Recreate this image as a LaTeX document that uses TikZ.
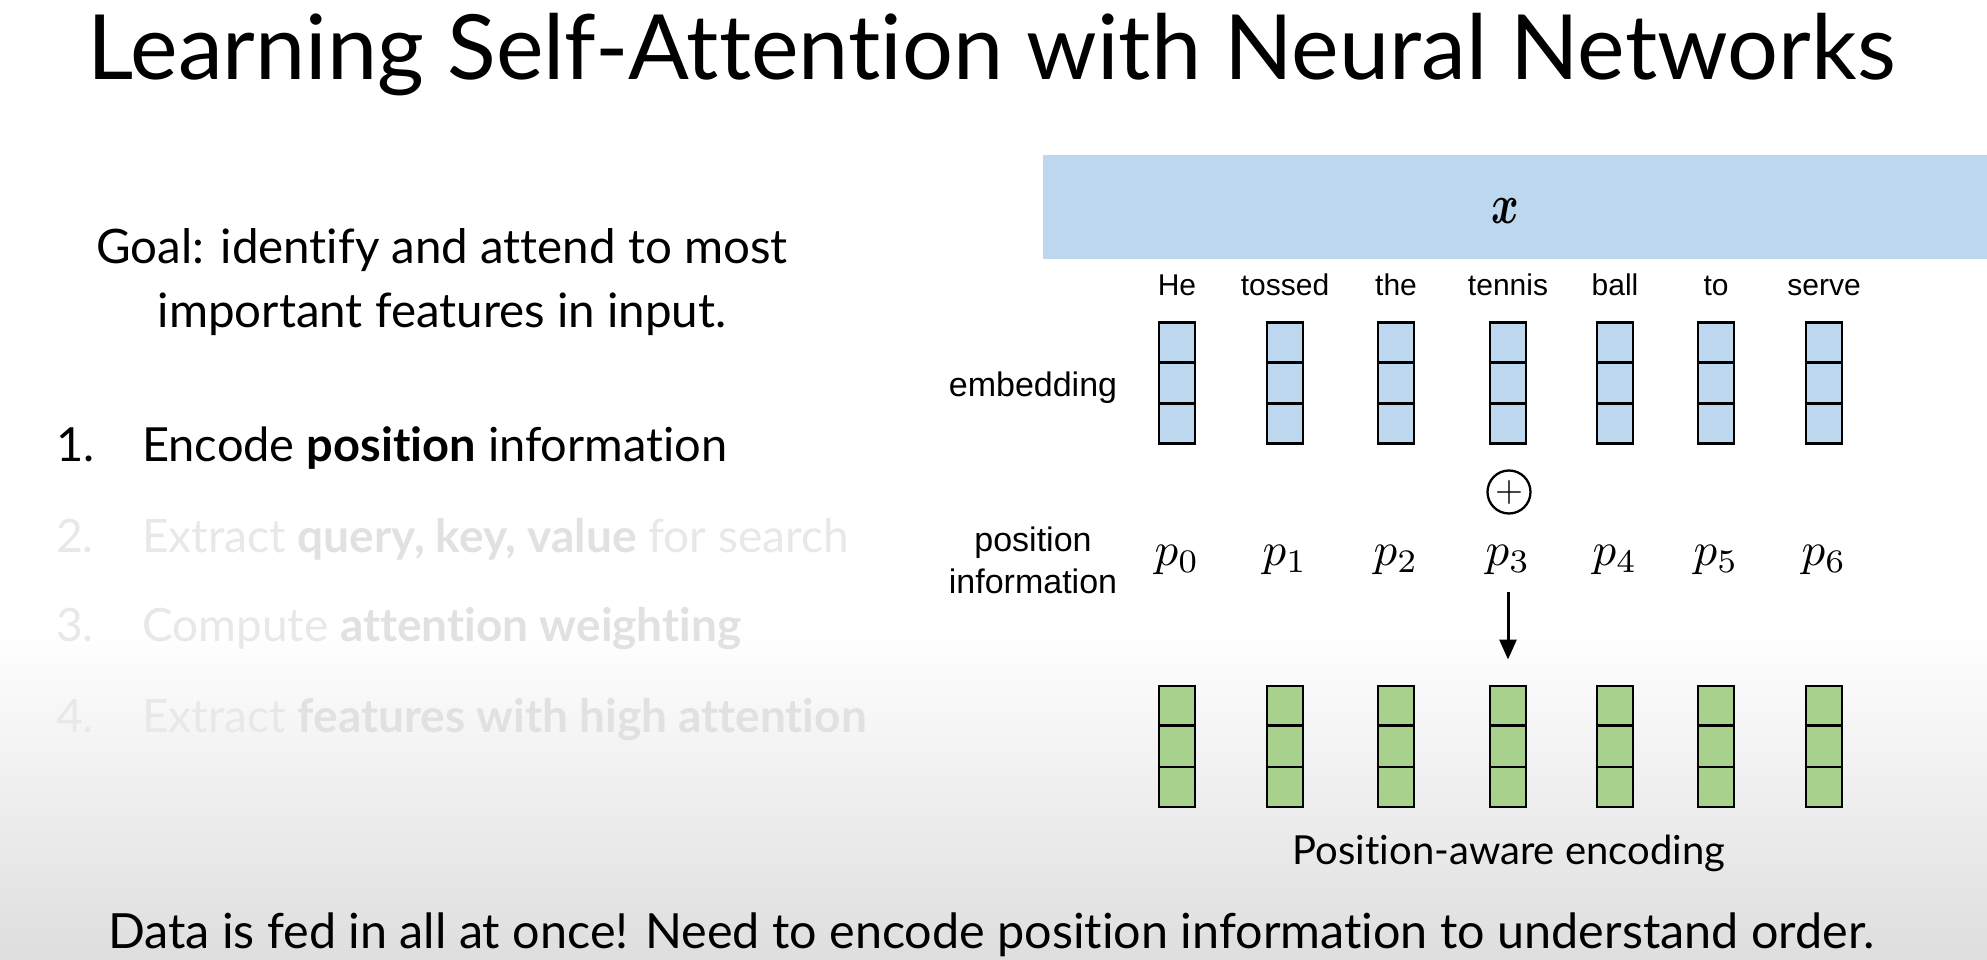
\documentclass[tikz,border=0pt]{standalone}
\usepackage[no-math]{fontspec}
\setmainfont{Lato}[Ligatures=NoCommon]
\newfontfamily\helv{Liberation Sans}
\usetikzlibrary{calc,arrows.meta}
\definecolor{barblue}{RGB}{189,215,238}
\definecolor{cellgreen}{RGB}{169,209,142}
\definecolor{fadetxt}{RGB}{232,232,232}
\definecolor{fadebold}{RGB}{225,225,225}
\definecolor{bgbottom}{RGB}{222,222,222}
\begin{document}
\begin{tikzpicture}[x=1pt,y=-1pt,
  titletxt/.style={font=\fontsize{90}{100}\selectfont, anchor=base, inner sep=0},
  goaltxt/.style={font=\fontsize{47.5}{55}\selectfont, anchor=base, inner sep=0},
  itemtxt/.style={font=\fontsize{47}{56}\selectfont, anchor=base west, inner sep=0},
  fadeitem/.style={itemtxt, font=\fontsize{46}{56}\selectfont, text=fadetxt},
  wordtxt/.style={font=\helv\fontsize{30}{36}\selectfont, anchor=base, inner sep=0},
  lbltxt/.style={font=\helv\fontsize{34}{40}\selectfont, anchor=base, inner sep=0},
  postxt/.style={anchor=base, inner sep=0},
  vcol/.style={draw=black, line width=2.6pt, minimum width=36pt, minimum height=121pt, inner sep=0, anchor=north},
  divider/.style={draw=black, line width=2.6pt},
  arr/.style={-{Triangle[length=20pt,width=17pt]}, line width=3pt},
]
\useasboundingbox (0,0) rectangle (1987,960);
\fill[white] (0,0) rectangle (1987,960);
\shade[top color=white, bottom color=bgbottom] (0,630) rectangle (1987,960);

% title
\node[titletxt] (title) at (991.5,80) {Learning Self-Attention with Neural Networks};

% goal
\node[goaltxt] (goal1) at (442,264) {Goal: identify and attend to most};
\node[goaltxt] (goal2) at (442,327) {important features in input.};

% list
\node[itemtxt] (n1) at (56,461) {1.};
\node[itemtxt] (t1) at (142,461) {Encode \textbf{position} information};
\node[fadeitem] (n2) at (56,552) {2.};
\node[fadeitem] (t2) at (142,552) {Extract \textcolor{fadebold}{\textbf{query, key, value}} for search};
\node[fadeitem] (n3) at (56,641) {3.};
\node[fadeitem] (t3) at (142,641) {Compute \textcolor{fadebold}{\textbf{attention weighting}}};
\node[fadeitem] (n4) at (56,732) {4.};
\node[fadeitem] (t4) at (142,732) {Extract \textcolor{fadebold}{\textbf{features with high attention}}};

% input bar
\node[fill=barblue, inner sep=0, minimum width=944pt, minimum height=104pt, anchor=north west] (bar) at (1043,155) {};
\node[inner sep=0] (xlbl) at (1505,211) {\scalebox{4.2}[5.6]{\boldmath$x$}};

% row labels
\node[lbltxt] (lemb) at (1033,396) {embedding};
\node[lbltxt] (lpos1) at (1033,551) {position};
\node[lbltxt] (lpos2) at (1033,593) {information};

% columns
\foreach \i/\xx/\w in {0/1177/He,1/1285/tossed,2/1396/the,3/1508/tennis,4/1615/ball,5/1716/to,6/1824/serve}{
  \node[wordtxt] (w\i) at (\xx,295) {\w};
  \node[vcol, fill=barblue] (e\i) at (\xx,321) {};
  \draw[divider] ($(e\i.north west)!1/3!(e\i.south west)$) -- ($(e\i.north east)!1/3!(e\i.south east)$);
  \draw[divider] ($(e\i.north west)!2/3!(e\i.south west)$) -- ($(e\i.north east)!2/3!(e\i.south east)$);
  \node[postxt] (p\i) at (\xx,565) {\scalebox{4.7}{$p_{\i}$}};
  \node[vcol, fill=cellgreen] (g\i) at (\xx,684.5) {};
  \draw[divider] ($(g\i.north west)!1/3!(g\i.south west)$) -- ($(g\i.north east)!1/3!(g\i.south east)$);
  \draw[divider] ($(g\i.north west)!2/3!(g\i.south west)$) -- ($(g\i.north east)!2/3!(g\i.south east)$);
}

% plus
\node[circle, draw=black, line width=2.3pt, minimum size=43pt, inner sep=0] (plus) at (1509,492) {\scalebox{3.6}{$+$}};

% arrow
\draw[arr, shorten <=18pt, shorten >=25pt] (g3.north |- p3.south) -- (g3.north);

% captions
\node[font=\fontsize{40}{48}\selectfont, anchor=base, inner sep=0] (enc) at (1509,864) {Position-aware encoding};
\node[font=\fontsize{48.5}{56}\selectfont, anchor=base, inner sep=0] (bottom) at (991.5,948) {Data is fed in all at once! Need to encode position information to understand order.};
\end{tikzpicture}
\end{document}
